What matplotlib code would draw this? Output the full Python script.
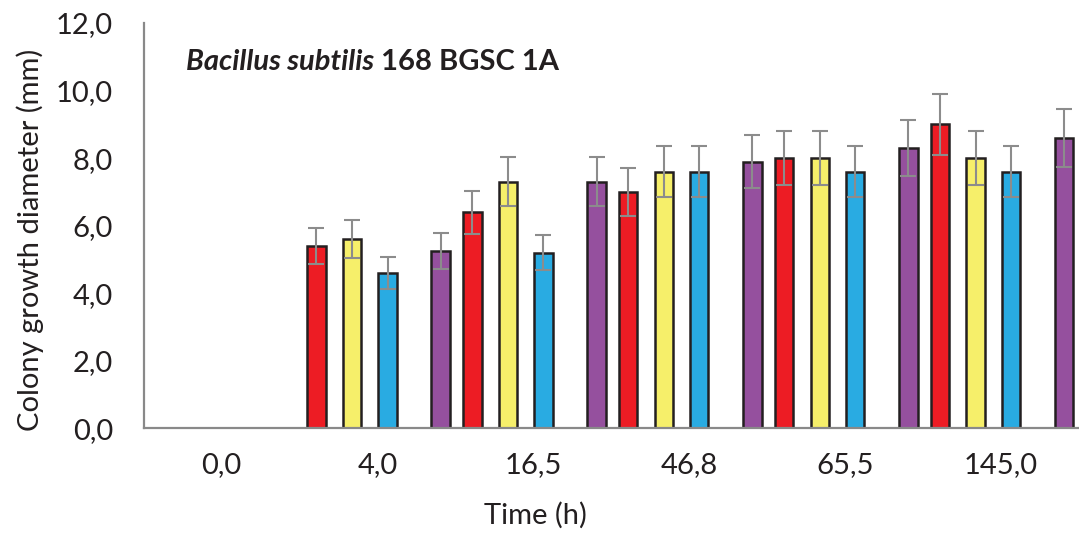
import numpy as np
import matplotlib
matplotlib.use("Agg")
import matplotlib.pyplot as plt

# -----------------------------------
# Data
# -----------------------------------
categories = ["0,0", "4,0", "16,5", "46,8", "65,5", "145,0"]

red = [np.nan, 5.4, 6.4, 7.0, 8.0, 9.0]
yellow = [np.nan, 5.6, 7.3, 7.6, 8.0, 8.0]
blue = [np.nan, 4.6, 5.2, 7.6, 7.6, 7.6]
purple = [np.nan, 5.25, 7.3, 7.9, 8.3, 8.6]

red_err = [np.nan, 0.54, 0.64, 0.70, 0.80, 0.90]
yellow_err = [np.nan, 0.56, 0.73, 0.76, 0.80, 0.80]
blue_err = [np.nan, 0.46, 0.52, 0.76, 0.76, 0.76]
purple_err = [np.nan, 0.53, 0.73, 0.79, 0.83, 0.86]

yticks = [0, 2, 4, 6, 8, 10, 12]

# -----------------------------------
# Style
# -----------------------------------
plt.rcParams["font.family"] = ["Lato", "DejaVu Sans"]
TEXT = "#231F20"
AXIS = "#898989"
EDGE = "#231F20"
ERR = "#8C8C8C"

series = [
    (red, red_err, "#ED1C24", -0.392),
    (yellow, yellow_err, "#F6EF6A", -0.163),
    (blue, blue_err, "#29ABE2", 0.064),
    (purple, purple_err, "#95509E", 0.405),
]
bar_w = 0.118

# -----------------------------------
# Plot
# -----------------------------------
fig = plt.figure(figsize=(10.79, 5.36), dpi=100)
ax = fig.add_axes([0.1332, 0.2006, 0.8668, 0.7565])

x = np.arange(len(categories))
for vals, errs, color, off in series:
    ax.bar(x + off, vals, width=bar_w, color=color, edgecolor=EDGE,
           linewidth=1.8, zorder=2)
    ax.errorbar(x + off, vals, yerr=errs, fmt="none", ecolor=ERR,
                elinewidth=1.5, capsize=6, capthick=1.5, zorder=3)

ax.set_xlim(-0.5, 5.5)
ax.set_ylim(0, 12)
ax.set_xticks(x)
ax.set_xticklabels(categories)
ax.set_yticks(yticks)
ax.set_yticklabels([f"{v:.1f}".replace(".", ",") for v in yticks])
ax.tick_params(axis="both", length=0, labelsize=21, colors=TEXT)
ax.tick_params(axis="y", pad=22)
ax.tick_params(axis="x", pad=17)

for s in ["top", "right"]:
    ax.spines[s].set_visible(False)
for s in ["left", "bottom"]:
    ax.spines[s].set_color(AXIS)
    ax.spines[s].set_linewidth(1.6)

fig.text(0.496, 0.039, "Time (h)", ha="center", va="center",
         fontsize=21, color=TEXT)
fig.text(0.028, 0.552, "Colony growth diameter (mm)", ha="center",
         va="center", rotation=90, fontsize=21, color=TEXT)

t1 = fig.text(0.172, 0.884, "Bacillus subtilis", ha="left", va="center",
              fontsize=21, fontweight="bold", fontstyle="italic",
              color=TEXT)
ax.annotate(" 168 BGSC 1A", xy=(1, 0.5), xycoords=t1, ha="left",
            va="center", fontsize=21, fontweight="bold", color=TEXT)

fig.savefig("out.png", dpi=100)
